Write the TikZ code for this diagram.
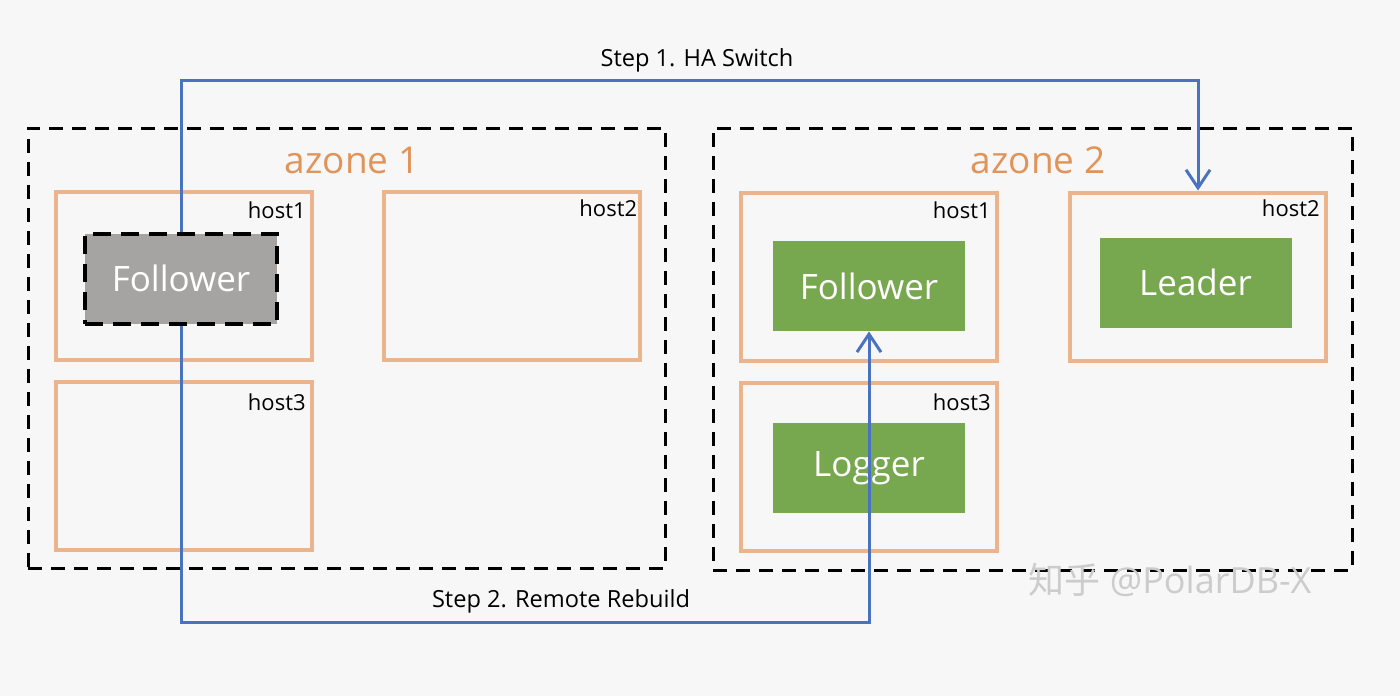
\documentclass[tikz,border=0pt]{standalone}
\usepackage{fontspec}
\setmainfont{Open Sans}
\newfontfamily\cjkfont{Noto Sans CJK SC}
\usepackage{xcolor}
\usetikzlibrary{positioning}
\usetikzlibrary{arrows.meta}
\usetikzlibrary{calc}
\definecolor{paper}{HTML}{F7F7F7}
\definecolor{hostline}{HTML}{EBB48C}
\definecolor{zonetext}{HTML}{E0945A}
\definecolor{replica}{HTML}{77A74E}
\definecolor{stale}{HTML}{A6A4A3}
\definecolor{flow}{HTML}{4A72C0}
\tikzset{
  % An availability zone
  zone/.style={
    draw=black, line width=1.5pt, dash pattern=on 7pt off 4.5pt,
    rectangle, inner sep=0pt, minimum width=#1},
  % A host inside a zone
  hostbox/.style={
    draw=hostline, line width=2pt, rectangle, inner sep=0pt,
    minimum width=128pt, minimum height=84pt},
  % A replica
  replicabox/.style={
    fill=replica, text=white, rectangle, inner sep=0pt, font=\fontsize{17.5}{20}\selectfont,
    minimum width=96pt, minimum height=45pt},
  % The replica that is lost
  lostbox/.style={
    replicabox, fill=stale, draw=black, line width=2pt, dash pattern=on 9pt off 5pt},
  % Labels
  hostlbl/.style={font=\fontsize{11}{13}\selectfont, inner sep=0pt, anchor=north east},
  zonelbl/.style={font=\fontsize{18.5}{22}\selectfont, text=zonetext, inner sep=0pt},
  steplbl/.style={font=\fontsize{11.8}{14}\selectfont, inner sep=0pt},
  % Moves
  move/.style={draw=flow, line width=1.5pt, -{Straight Barb[length=9pt,width=12pt,line width=1.5pt]}},
}

\begin{document}
\begin{tikzpicture}[x=0.5pt, y=-0.5pt]

  \useasboundingbox[fill=paper] (0,0) rectangle (1400,696);

  % azone 1
  \node[zone=318.5pt, minimum height=220pt] (z1) at (346.5,348) {};
  \node[zonelbl] (z1lbl) at (352,160) {azone 1};
  \node[hostbox] (z1h1) at (184,276) {};
  \node[hostbox] (z1h2) at (511.5,276) {};
  \node[hostbox] (z1h3) at (184,465.5) {};
  \node[hostlbl] at ($(z1h1.north east)+(-8,11)$) {host1};
  \node[hostlbl] at ($(z1h2.north east)+(-4,9)$) {host2};
  \node[hostlbl] at ($(z1h3.north east)+(-8,14)$) {host3};
  \node[lostbox] (oldfol) at (181,278.5) {Follower};

  % azone 2
  \node[zone=319.5pt, minimum height=221pt] (z2) at (1032.5,349) {};
  \node[zonelbl] (z2lbl) at (1038,160) {azone 2};
  \node[hostbox] (z2h1) at (869,276.5) {};
  \node[hostbox] (z2h2) at (1198,276.5) {};
  \node[hostbox] (z2h3) at (869,466.5) {};
  \node[hostlbl] at ($(z2h1.north east)+(-8,11)$) {host1};
  \node[hostlbl] at ($(z2h2.north east)+(-8,9)$) {host2};
  \node[hostlbl] at ($(z2h3.north east)+(-8,13)$) {host3};
  \node[replicabox] (newfol) at (869,286) {Follower};
  \node[replicabox] (leader) at (1195.5,282.5) {Leader};
  \node[replicabox] (logger) at (869,468) {Logger};

  % step 1 and step 2
  \coordinate (topline) at (0,80);
  \coordinate (botline) at (0,622);
  \draw[move] (oldfol.north) -- (oldfol.north |- topline) -| (z2h2.north);
  \draw[move] (oldfol.south) -- (oldfol.south |- botline) -| (newfol.south);
  \node[steplbl] (s1) at (697,60) {Step 1. HA Switch};
  \node[steplbl] (s2) at (561,601) {Step 2. Remote Rebuild};

  \node[font=\fontsize{18}{20}\selectfont, text=black!20] (mark) at (1170,580)
    {{\cjkfont 知乎} @PolarDB-X};

\end{tikzpicture}
\end{document}
